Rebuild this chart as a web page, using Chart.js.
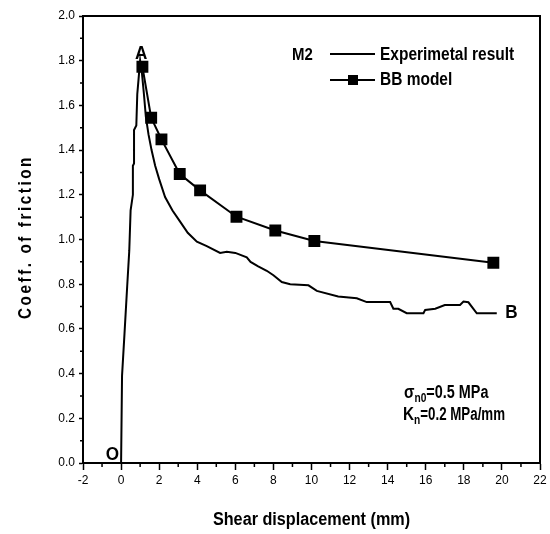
<!DOCTYPE html>
<html>
<head>
<meta charset="utf-8">
<script src="https://cdn.jsdelivr.net/npm/chart.js@4.4.1/dist/chart.umd.min.js"></script>
<style>
  html, body { margin: 0; padding: 0; background: #fff; }
  #wrap { width: 550px; height: 534px; }
</style>
</head>
<body>
<div id="wrap"><canvas id="chart" width="550" height="534"></canvas></div>
<script>
const expX = [0, 0.05, 0.18, 0.28, 0.32, 0.43, 0.5, 0.62, 0.62, 0.68, 0.68, 0.8, 0.85, 0.92, 1.0,
  1.1, 1.2, 1.3, 1.44, 1.6, 1.79, 2.0, 2.31, 2.7, 3.1, 3.5, 3.98, 4.5, 5.2, 5.55, 6.0, 6.6, 6.8,
  7.2, 7.65, 8.0, 8.44, 8.88, 9.84, 10.28, 11.4, 12.38, 12.9, 14.13, 14.3, 14.56, 15.0, 15.88,
  15.97, 16.5, 17.0, 17.8, 17.98, 18.24, 18.68, 19.73];
const expY = [0, 0.39, 0.58, 0.73, 0.79, 0.95, 1.13, 1.2, 1.33, 1.34, 1.49, 1.51, 1.65, 1.72, 1.80,
  1.74, 1.65, 1.55, 1.47, 1.40, 1.33, 1.27, 1.19, 1.13, 1.08, 1.03, 0.99, 0.97, 0.94, 0.945, 0.94, 0.92, 0.90,
  0.88, 0.86, 0.84, 0.81, 0.80, 0.795, 0.77, 0.745, 0.737, 0.72, 0.72, 0.69, 0.69, 0.67, 0.67,
  0.685, 0.69, 0.707, 0.707, 0.722, 0.719, 0.67, 0.67];

// BB model points
const bbX = [1.12, 1.58, 2.12, 3.08, 4.15, 6.06, 8.10, 10.15, 19.55];
const bbY = [1.773, 1.545, 1.448, 1.293, 1.220, 1.102, 1.040, 0.993, 0.896];

const xTitle = 'Shear displacement (mm)';
const yTitle = 'Coeff. of friction';
const seriesNames = ['Experimetal result', 'BB model'];

const FONT = "'Liberation Sans', Arial, sans-serif";

const toPts = (xs, ys) => xs.map((x, i) => ({ x: x, y: ys[i] }));

// no narrow font installed, so squeeze bold text horizontally
function narrow(ctx, text, x, y, size, sx, align, rot) {
  ctx.save();
  ctx.translate(x, y);
  if (rot) ctx.rotate(rot);
  ctx.scale(sx, 1);
  ctx.font = 'bold ' + size + 'px ' + FONT;
  ctx.textAlign = align || 'left';
  ctx.fillText(text, 0, 0);
  const w = ctx.measureText(text).width * sx;
  ctx.restore();
  return w;
}

const decorations = {
  id: 'decorations',
  afterDraw(chart) {
    const ctx = chart.ctx;
    const a = chart.chartArea;
    const xs = chart.scales.x, ys = chart.scales.y;
    ctx.save();
    ctx.strokeStyle = '#000';
    ctx.fillStyle = '#000';
    ctx.lineWidth = 2;
    ctx.beginPath();
    ctx.moveTo(a.left, a.top); ctx.lineTo(a.right, a.top); ctx.lineTo(a.right, a.bottom);
    ctx.stroke();

    // minor ticks
    ctx.lineWidth = 1.5;
    ctx.beginPath();
    for (let v = -1; v < 22; v += 2) {
      const px = xs.getPixelForValue(v);
      ctx.moveTo(px, a.bottom); ctx.lineTo(px, a.bottom + 4);
    }
    for (let v = 0.1; v < 2; v += 0.2) {
      const py = ys.getPixelForValue(v);
      ctx.moveTo(a.left, py); ctx.lineTo(a.left - 3, py);
    }
    ctx.stroke();

    ctx.textBaseline = 'middle';

    // axis titles
    narrow(ctx, xTitle, (a.left + a.right) / 2, 520, 18, 0.9, 'center');
    ctx.save();
    ctx.letterSpacing = '3px';
    narrow(ctx, yTitle, 26, 237, 18, 0.85, 'center', -Math.PI / 2);
    ctx.restore();

    // legend
    narrow(ctx, 'M2', 292, 55, 17, 0.88);
    narrow(ctx, seriesNames[0], 380, 55, 18, 0.86);
    narrow(ctx, seriesNames[1], 380, 80, 18, 0.86);
    ctx.lineWidth = 2;
    ctx.beginPath();
    ctx.moveTo(330, 54); ctx.lineTo(375, 54);
    ctx.moveTo(330, 80); ctx.lineTo(375, 80);
    ctx.stroke();
    ctx.fillRect(348, 75, 10, 10);

    // point labels
    narrow(ctx, 'A', xs.getPixelForValue(1.05), ys.getPixelForValue(1.83), 19, 0.9, 'center');
    narrow(ctx, 'B', xs.getPixelForValue(20.5), ys.getPixelForValue(0.67), 19, 0.9, 'center');
    narrow(ctx, 'O', xs.getPixelForValue(-0.45), ys.getPixelForValue(0.036), 19, 0.9, 'center');

    // test conditions
    let x0 = 404;
    x0 += narrow(ctx, '\u03c3', x0, 393, 18, 0.85);
    x0 += narrow(ctx, 'n0', x0, 399, 12, 0.85);
    narrow(ctx, '=0.5 MPa', x0, 393, 18, 0.8);
    x0 = 403;
    x0 += narrow(ctx, 'K', x0, 415, 18, 0.85);
    x0 += narrow(ctx, 'n', x0, 421, 12, 0.85);
    narrow(ctx, '=0.2 MPa/mm', x0, 415, 18, 0.74);
    ctx.restore();
  }
};

new Chart(document.getElementById('chart'), {
  type: 'line',
  data: {
    datasets: [
      {
        label: seriesNames[0],
        data: toPts(expX, expY),
        borderColor: '#000',
        borderWidth: 2,
        pointRadius: 0,
        tension: 0,
        fill: false
      },
      {
        label: seriesNames[1],
        data: toPts(bbX, bbY),
        borderColor: '#000',
        backgroundColor: '#000',
        borderWidth: 2,
        pointStyle: 'rect',
        pointRadius: 7,
        pointHoverRadius: 7,
        tension: 0,
        fill: false
      }
    ]
  },
  options: {
    responsive: false,
    animation: false,
    events: [],
    layout: { padding: { left: 0, right: 10, top: 16, bottom: 0 } },
    plugins: {
      legend: { display: false },
      tooltip: { enabled: false }
    },
    scales: {
      x: {
        type: 'linear',
        min: -2,
        max: 22,
        border: { color: '#000', width: 2 },
        grid: {
          drawOnChartArea: false,
          tickLength: 7,
          tickWidth: 1.5,
          tickColor: (c) => (c.tick && Math.round(c.tick.value) % 2 !== 0) ? 'rgba(0,0,0,0)' : '#000'
        },
        ticks: {
          stepSize: 1,
          autoSkip: false,
          maxRotation: 0,
          color: '#000',
          padding: 3,
          font: { family: FONT, size: 12 },
          callback: (v) => (v % 2 === 0 ? String(v) : '')
        },
        title: { display: false },
        afterFit: (s) => { s.height = 71; }
      },
      y: {
        min: 0,
        max: 2.0,
        border: { color: '#000', width: 2 },
        grid: { drawOnChartArea: false, tickLength: 4, tickWidth: 1.5, tickColor: '#000' },
        ticks: {
          stepSize: 0.2,
          color: '#000',
          padding: 4,
          font: { family: FONT, size: 12 },
          callback: (v) => v.toFixed(1)
        },
        title: { display: false },
        afterFit: (s) => { s.width = 83; }
      }
    }
  },
  plugins: [decorations]
});
</script>
</body>
</html>
